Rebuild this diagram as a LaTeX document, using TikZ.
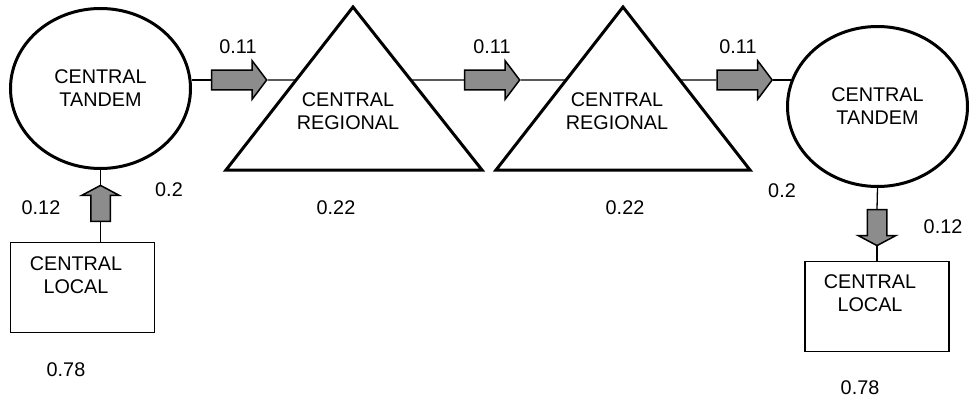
\documentclass[tikz,border=0pt]{standalone}
\usepackage{fontspec}
\setmainfont{Liberation Sans}
\usetikzlibrary{shapes.geometric,shapes.arrows,calc}
\definecolor{arrowgray}{RGB}{140,140,140}

\begin{document}
\begin{tikzpicture}[x=1pt,y=-1pt,
	font=\fontsize{19.8}{23}\selectfont,
	tandem/.style={ellipse,draw,line width=3pt,inner sep=0pt,
		minimum width=180pt,minimum height=160pt,align=center},
	localbox/.style={rectangle,draw,line width=1.6pt,inner sep=0pt,
		minimum width=144pt,minimum height=90pt},
	region/.style={line width=3pt,line join=miter},
	flow/.style={single arrow,draw,fill=arrowgray,line width=1.5pt,
		inner xsep=0pt,inner ysep=9pt,minimum height=55pt,
		single arrow head extend=9.5pt,single arrow tip angle=106},
	drop/.style={flow,minimum height=36pt,
		single arrow head extend=9pt,single arrow tip angle=124},
	wire/.style={line width=1.3pt}]
\useasboundingbox (0,0) rectangle (969,404);

% the two tandem offices
\node[tandem] (tandL) at (100.5,88.5) {CENTRAL\\TANDEM};
\node[tandem] (tandR) at (877.5,106.5) {CENTRAL\\TANDEM};

% the two regional offices (triangles)
\coordinate (reg1l) at (226,170);
\coordinate (reg1r) at (482,170);
\coordinate (reg1t) at (353,7);
\coordinate (reg2l) at (496,170);
\coordinate (reg2r) at (750,170);
\coordinate (reg2t) at (623,7);
\draw[region] (reg1l) -- (reg1t) -- (reg1r) -- cycle;
\draw[region] (reg2l) -- (reg2t) -- (reg2r) -- cycle;
\node[align=center] (reg1) at (348,111.5) {CENTRAL\\REGIONAL};
\node[align=center] (reg2) at (617,111.5) {CENTRAL\\REGIONAL};
% where the flow line meets the sides
\coordinate (reg1in)  at ($(reg1l)!0.552!(reg1t)$);
\coordinate (reg1out) at ($(reg1r)!0.552!(reg1t)$);
\coordinate (reg2in)  at ($(reg2l)!0.552!(reg2t)$);
\coordinate (reg2out) at ($(reg2r)!0.552!(reg2t)$);

% the local offices
\node[localbox] (locL) at (82.5,287.5) {};
\node[localbox] (locR) at (877,306.5) {};
\node[align=center] (locLtext) at (76,275.5) {CENTRAL\\LOCAL};
\node[align=center] (locRtext) at (870,293) {CENTRAL\\LOCAL};

% the block arrows
\node[flow] (arr1) at (235.5,80) {};
\node[flow] (arr2) at (488.5,80) {};
\node[flow] (arr3) at (741,80) {};
\node[drop,rotate=90]  (arrL) at (100.5,206) {};
\node[drop,rotate=-90] (arrR) at (877,225) {};

% the connecting lines
\draw[wire] (arr1.tail -| tandL.east) -- (arr1.tail);
\draw[wire] (arr1.tip) -- (reg1in);
\draw[wire] (reg1out) -- (arr2.tail);
\draw[wire] (arr2.tip) -- (reg2in);
\draw[wire] (reg2out) -- (arr3.tail);
\draw[wire] (arr3.tip) -- (arr3.tip -| tandR.163);
\draw[wire] (tandL.south) -- (arrL.tip);
\draw[wire] (arrL.tail) -- (arrL.tail |- locL.north);
\draw[wire] (tandR.south) -- (arrR.tail);
\draw[wire] (arrR.tip) -- (locR.north);

% the values
\node (v11a) at (238,47) {0.11};
\node (v11b) at (492,47) {0.11};
\node (v11c) at (738,47) {0.11};
\node (v2L)  at (169,190) {0.2};
\node (v2R)  at (782,191) {0.2};
\node (v22a) at (336,208) {0.22};
\node (v22b) at (625,208) {0.22};
\node (v12L) at (41,208) {0.12};
\node (v12R) at (943,227) {0.12};
\node (v78L) at (66,370) {0.78};
\node (v78R) at (860,388) {0.78};
\end{tikzpicture}
\end{document}
